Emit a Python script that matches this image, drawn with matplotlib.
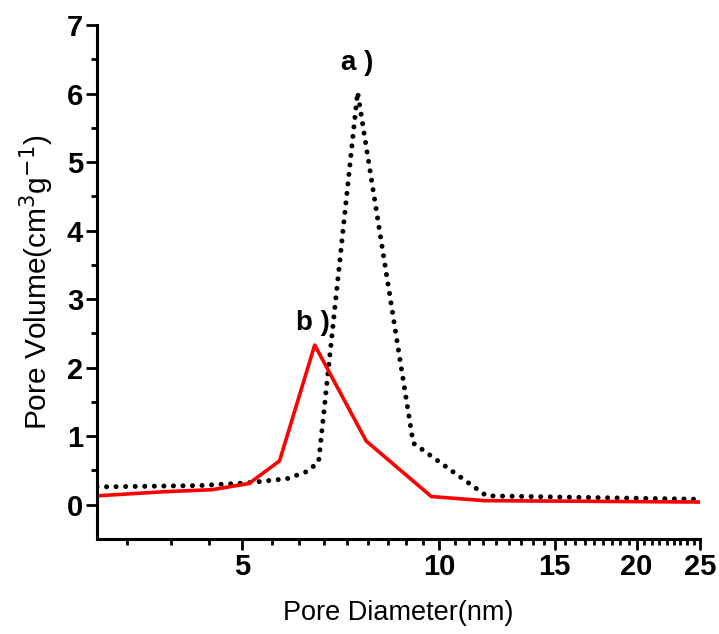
import numpy as np
import matplotlib
matplotlib.use("Agg")
import matplotlib.pyplot as plt
from matplotlib.ticker import FixedLocator, NullFormatter

plt.rcParams['font.family'] = ['Liberation Sans', 'DejaVu Sans']

# pore size distribution, sample a (dotted) and sample b (red)
diam_a = [3.0, 4.3, 5.1, 5.85, 6.3, 6.54, 7.50, 9.12, 11.8, 25.0]
vol_a = [0.26, 0.28, 0.32, 0.38, 0.49, 0.63, 6.02, 0.90, 0.13, 0.08]

diam_b = [3.0, 3.8, 4.5, 5.12, 5.70, 6.45, 7.73, 9.72, 11.7, 25.0]
vol_b = [0.13, 0.19, 0.22, 0.31, 0.64, 2.33, 0.93, 0.12, 0.06, 0.04]

x_ticks = [5, 10, 15, 20, 25]
y_ticks = [0, 1, 2, 3, 4, 5, 6, 7]

fig = plt.figure(figsize=(7.19, 6.34), dpi=100)
ax = fig.add_axes([0.1349, 0.1498, 0.9736 - 0.1349, 0.9606 - 0.1498])

ax.plot(diam_a, vol_a, color='black', linewidth=3.6,
        linestyle=(0, (0.01, 1.9)), dash_capstyle='round')
ax.plot(diam_b, vol_b, color='#ff0000', linewidth=2.6)

ax.set_xscale('log')
ax.set_xlim(3, 25)
ax.set_ylim(-0.5, 7)

ax.xaxis.set_major_locator(FixedLocator(x_ticks))
ax.xaxis.set_minor_locator(FixedLocator(np.arange(5 - 3 * 5 / 9, 25.01, 5 / 9)))
ax.xaxis.set_minor_formatter(NullFormatter())
ax.set_xticklabels([str(t) for t in x_ticks])
ax.yaxis.set_major_locator(FixedLocator(y_ticks))
ax.yaxis.set_minor_locator(FixedLocator(np.arange(0.5, 7, 1.0)))

for side in ['top', 'right']:
    ax.spines[side].set_visible(False)
for side in ['left', 'bottom']:
    ax.spines[side].set_linewidth(2.2)

ax.tick_params(which='major', direction='out', length=8, width=2.0,
               labelsize=21, pad=2)
ax.tick_params(which='minor', direction='out', length=4.5, width=2.0)
for lbl in ax.get_xticklabels() + ax.get_yticklabels():
    lbl.set_fontweight('bold')

ax.set_xlabel('Pore Diameter(nm)', fontsize=19.5, labelpad=14)
ax.set_ylabel('Pore Volume(cm$^{3}$g$^{-1}$)', fontsize=21.5, labelpad=8)

ax.text(7.5, 6.45, 'a )', fontsize=20, fontweight='bold', ha='center', va='center')
ax.text(6.4, 2.65, 'b )', fontsize=20, fontweight='bold', ha='center', va='center')

fig.savefig('out.png', dpi=100)
